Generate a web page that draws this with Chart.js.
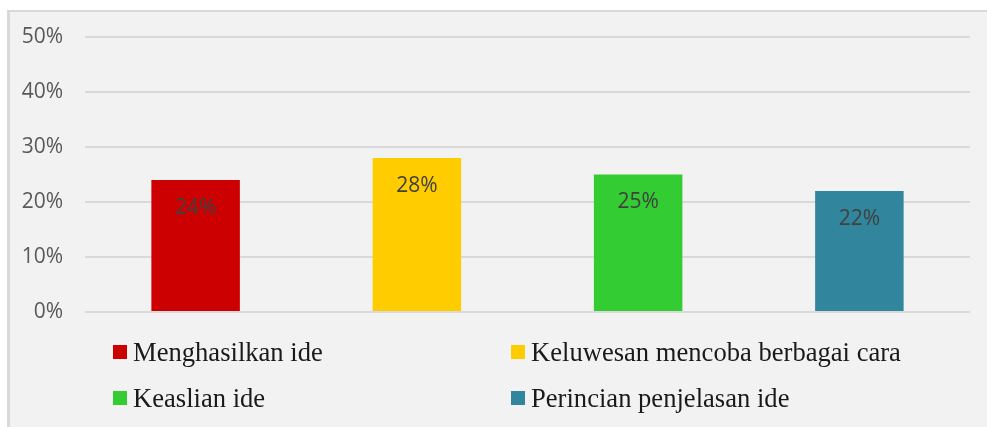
<!DOCTYPE html>
<html>
<head>
<meta charset="utf-8">
<script src="https://cdn.jsdelivr.net/npm/chart.js@4/dist/chart.umd.min.js"></script>
<style>
  body { margin: 0; background: #ffffff; }
  #frame {
    position: absolute; left: 7px; top: 10px;
    width: 980px; height: 417px;
    background: #f2f2f2;
    border-left: 3px solid #d9d9d9;
    border-top: 2px solid #d9d9d9;
  }
  #chart { position: absolute; left: 0; top: 0; }
  #legend {
    position: absolute; left: 103px; top: 317px;
    display: grid; grid-template-columns: 398px auto;
    font-family: "Liberation Serif", "Times New Roman", serif;
    font-size: 26.6px; color: #1a1a1a;
  }
  .item { display: flex; align-items: center; line-height: 46px; height: 46px; white-space: nowrap; }
  .box { width: 14px; height: 14px; margin-right: 6px; }
</style>
</head>
<body>
<div id="frame">
  <canvas id="chart" width="977" height="320"></canvas>
  <div id="legend"></div>
</div>
<script>
var categories = ['Menghasilkan ide', 'Keluwesan mencoba berbagai cara', 'Keaslian ide', 'Perincian penjelasan ide'];
var values = [0.24, 0.28, 0.25, 0.22];
var colors = ['#cc0000', '#ffcc00', '#33cc33', '#31859c'];
var yTicks = [0, 0.1, 0.2, 0.3, 0.4, 0.5];

function pct(v) {
    return Math.round(v * 100) + '%';
}

// one dataset per category, like the series in the original
var datasets = categories.map(function(name, i) {
    return {
        label: name,
        data: categories.map(function(c, j) { return j === i ? values[i] : null; }),
        backgroundColor: colors[i]
    };
});

var barLabels = {
    id: 'barLabels',
    afterDatasetsDraw: function(chart) {
        var ctx = chart.ctx;
        ctx.save();
        ctx.font = '21px "Open Sans", sans-serif';
        ctx.fillStyle = '#404040';
        ctx.textAlign = 'center';
        ctx.textBaseline = 'middle';
        chart.data.datasets.forEach(function(ds, i) {
            chart.getDatasetMeta(i).data.forEach(function(bar, j) {
                var v = ds.data[j];
                if (v === null) return;
                ctx.fillText(pct(v), bar.x, bar.y + 28);
            });
        });
        ctx.restore();
    }
};

var chart = new Chart(document.getElementById('chart').getContext('2d'), {
    type: 'bar',
    data: { labels: categories, datasets: datasets },
    options: {
        responsive: false,
        animation: false,
        skipNull: true,
        categoryPercentage: 1,
        barPercentage: 0.4,
        layout: { padding: { top: 25, bottom: 20, right: 17, left: 0 } },
        plugins: { legend: { display: false }, tooltip: { enabled: false } },
        scales: {
            x: { display: false },
            y: {
                min: 0,
                max: 0.5,
                afterBuildTicks: function(scale) {
                    scale.ticks = yTicks.map(function(v) { return { value: v }; });
                },
                afterFit: function(scale) {
                    scale.width = 75;
                    // tick padding should only push labels sideways
                    scale.paddingTop = 0;
                    scale.paddingBottom = 0;
                },
                border: { display: false },
                grid: { color: '#d9d9d9', lineWidth: 2, drawTicks: false },
                ticks: {
                    padding: 22,
                    color: '#595959',
                    font: { family: '"Open Sans", sans-serif', size: 21 },
                    callback: function(v) { return pct(v); }
                }
            }
        }
    },
    plugins: [barLabels]
});

// legend in two columns, built from the chart's datasets
var legend = document.getElementById('legend');
chart.data.datasets.forEach(function(ds) {
    var item = document.createElement('div');
    item.className = 'item';
    var box = document.createElement('span');
    box.className = 'box';
    box.style.background = ds.backgroundColor;
    var text = document.createElement('span');
    text.textContent = ds.label;
    item.appendChild(box);
    item.appendChild(text);
    legend.appendChild(item);
});
</script>
</body>
</html>
